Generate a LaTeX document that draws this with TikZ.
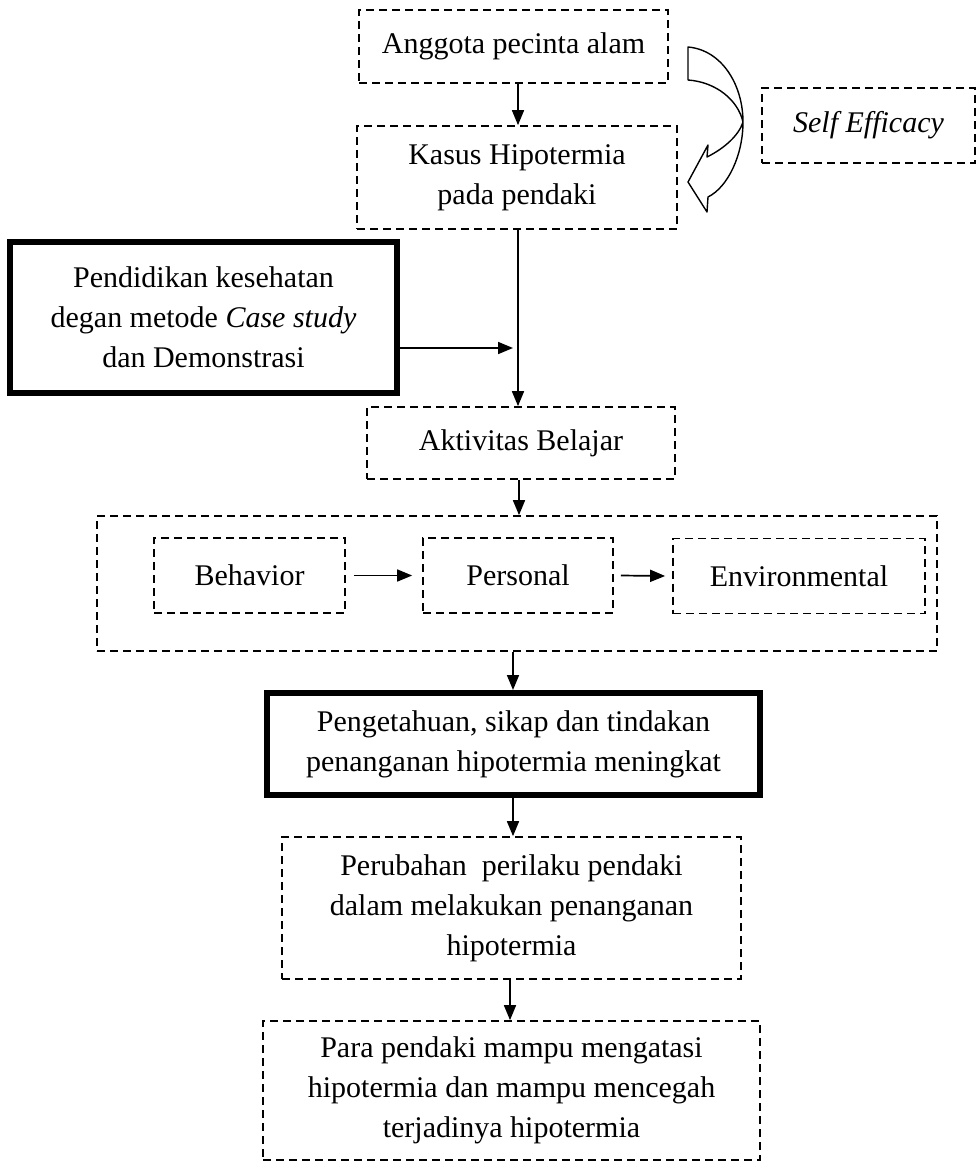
\documentclass[tikz,border=0pt]{standalone}
\usepackage{fontspec}
\setmainfont{Liberation Serif}
\usetikzlibrary{arrows.meta}
\tikzset{
  dbox/.style={draw, line width=1.7pt, dash pattern=on 8pt off 5pt, align=center, inner sep=0pt,
    font=\fontsize{30}{40}\selectfont},
  tbox/.style={draw, line width=6pt, align=center, inner sep=0pt,
    font=\fontsize{30}{40}\selectfont},
  arr/.style={line width=1.7pt, -{Triangle[width=12pt,length=15pt]}},
  curvy/.style={line width=1.4pt, line join=round}
}
\begin{document}
\begin{tikzpicture}[x=1pt,y=-1pt]
\useasboundingbox[fill=white] (0,0) rectangle (978,1162);

% nodes
\node[dbox, minimum width=309, minimum height=73] (anggota) at (513.5,46.5) {Anggota pecinta alam};
\node[dbox, minimum width=320, minimum height=103] (kasus) at (517,177.5) {Kasus Hipotermia\\pada pendaki};
\node[dbox, minimum width=213, minimum height=75] (self) at (868.5,125.5) {\textit{Self Efficacy}};
\node[tbox, minimum width=387, minimum height=151] (pend) at (203.5,317.5) {Pendidikan kesehatan\\degan metode \textit{Case study}\\dan Demonstrasi};
\node[dbox, minimum width=308, minimum height=72] (akt) at (521,443) {Aktivitas Belajar};
\node[dbox, minimum width=840, minimum height=135] (big) at (517,583.5) {};
\node[dbox, minimum width=191, minimum height=75] (beh) at (249.5,575.5) {Behavior};
\node[dbox, minimum width=190, minimum height=75] (pers) at (518,575.5) {Personal};
\node[dbox, minimum width=252, minimum height=75] (env) at (799,576) {Environmental};
\node[tbox, minimum width=493, minimum height=102] (peng) at (513.5,744) {Pengetahuan, sikap dan tindakan\\penanganan hipotermia meningkat};
\node[dbox, minimum width=459, minimum height=142] (perub) at (511.5,908) {Perubahan~ perilaku pendaki\\dalam melakukan penanganan\\hipotermia};
\node[dbox, minimum width=497, minimum height=139] (para) at (511.5,1090.5) {Para pendaki mampu mengatasi\\hipotermia dan mampu mencegah\\terjadinya hipotermia};

% helper coordinates
\coordinate (c518) at (518,0);
\coordinate (c519) at (519,0);
\coordinate (c513) at (513,0);
\coordinate (c510) at (510,0);
\coordinate (pe) at (513,348);

% connectors
\draw[arr] (anggota.south -| c518) -- (kasus.north -| c518);
\draw[arr] (kasus.south -| c518) -- (akt.north -| c518);
\draw[arr] (pend.east |- pe) -- (pe);
\draw[arr] (akt.south -| c519) -- (big.north -| c519);
\draw[arr] ([xshift=8pt]beh.east) -- ([xshift=-10pt]pers.west);
\draw[arr] ([xshift=7pt]pers.east) -- ([xshift=-7pt]env.west);
\draw[arr] (big.south -| c513) -- (peng.north -| c513);
\draw[arr] (peng.south -| c513) -- (perub.north -| c513);
\draw[arr] (perub.south -| c510) -- (para.north -| c510);

% curved block arrow
\draw[curvy] (688,47) .. controls (722,50) and (743,85) .. (743,122)
  .. controls (743,155) and (728,187) .. (708,197)
  -- (707,212) -- (688,182) -- (708,145) -- (707,157)
  .. controls (725,148) and (739,135) .. (743,122)
  .. controls (738,100) and (716,82) .. (688,80) -- cycle;
\end{tikzpicture}
\end{document}
